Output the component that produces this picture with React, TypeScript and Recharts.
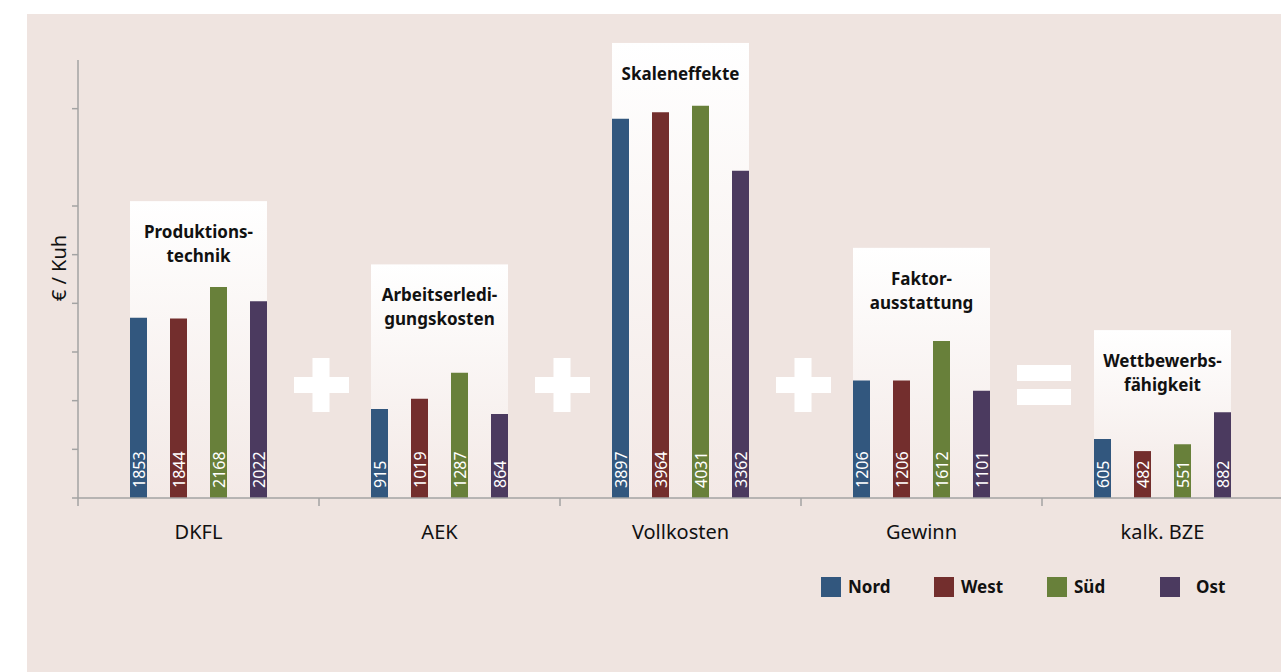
import React from 'react';
import { BarChart, Bar, XAxis, YAxis, ReferenceArea, LabelList, Legend } from 'recharts';

const categories = ['DKFL', 'AEK', 'Vollkosten', 'Gewinn', 'kalk. BZE'];
const nord = [1853, 915, 3897, 1206, 605];
const west = [1844, 1019, 3964, 1206, 482];
const sued = [2168, 1287, 4031, 1612, 551];
const ost = [2022, 864, 3362, 1101, 882];
const seriesNames = ['Nord', 'West', 'Süd', 'Ost'];

// caption box per group and the €/Kuh level its top sits at
const boxTitles = [
  ['Produktions-', 'technik'],
  ['Arbeitserledi-', 'gungskosten'],
  ['Skaleneffekte'],
  ['Faktor-', 'ausstattung'],
  ['Wettbewerbs-', 'fähigkeit'],
];
const boxTops = [3050, 2400, 4675, 2570, 1725];
const operators = ['', '+', '+', '+', '='];

const yTicks = [0, 500, 1000, 1500, 2000, 2500, 3000, 4000];

const data = categories.map((cat, i) => ({
  cat,
  Nord: nord[i],
  West: west[i],
  Süd: sued[i],
  Ost: ost[i],
}));

const BG = '#efe4e0';
const AXIS = '#a3a3a3';
const COLORS: Record<string, string> = { Nord: '#32577e', West: '#732e2d', Süd: '#68803a', Ost: '#4b3a5f' };
const FONT = "'Noto Sans', sans-serif";

const CHART_W = 1290;
const CHART_H = 672;
const MARGIN = { top: 60, right: 7, bottom: 134, left: 18 };
const Y_AXIS_W = 60;
const X_AXIS_H = 40;
const PLOT_LEFT = MARGIN.left + Y_AXIS_W;
const PLOT_W = CHART_W - PLOT_LEFT - MARGIN.right;
const PLOT_BOTTOM = CHART_H - MARGIN.bottom - X_AXIS_H;
const BAND = PLOT_W / categories.length;
const BAR_SIZE = 17;
const BAR_GAP = 23;
const GROUP_W = 4 * BAR_SIZE + 3 * BAR_GAP;

const Operator = ({ cx, cy, sign }: { cx: number; cy: number; sign: string }) => {
  if (sign === '+') {
    return (
      <g fill="#fff">
        <rect x={cx - 27} y={cy - 8} width={55} height={16} />
        <rect x={cx - 8.5} y={cy - 27} width={17} height={54} />
      </g>
    );
  }
  if (sign === '=') {
    return (
      <g fill="#fff">
        <rect x={cx - 27} y={cy - 20} width={54} height={16} />
        <rect x={cx - 27} y={cy + 4} width={54} height={16} />
      </g>
    );
  }
  return null;
};

const makeBoxShape = (i: number) => (props: any) => {
  const { x, y, width, height } = props;
  const inset = (width - GROUP_W) / 2;
  const cx = x + width / 2;
  return (
    <g>
      <rect x={x + inset} y={y} width={GROUP_W} height={height} fill="url(#boxFade)" />
      {boxTitles[i].map((line, j) => (
        <text
          key={j}
          x={cx}
          y={y + 37 + j * 24}
          textAnchor="middle"
          fontFamily={FONT}
          fontSize={17}
          fontWeight={700}
          fill="#111"
        >
          {line}
        </text>
      ))}
      <Operator cx={x + 2} cy={y + height - 113} sign={operators[i]} />
    </g>
  );
};

const renderValue = (props: any) => {
  const vb = props.viewBox || props;
  const { x, y, width, height } = vb;
  const cx = x + width / 2;
  const by = y + height - 10;
  return (
    <text
      x={cx}
      y={by}
      transform={`rotate(-90, ${cx}, ${by})`}
      textAnchor="start"
      dominantBaseline="central"
      fontFamily={FONT}
      fontSize={16}
      fill="#fff"
    >
      {props.value}
    </text>
  );
};

const CategoryTick = ({ x, payload }: any) => (
  <g>
    <line x1={x - BAND / 2} x2={x - BAND / 2} y1={PLOT_BOTTOM} y2={PLOT_BOTTOM + 8} stroke={AXIS} strokeWidth={1.5} />
    <text x={x} y={PLOT_BOTTOM + 41} textAnchor="middle" fontFamily={FONT} fontSize={20} fill="#111">
      {payload.value}
    </text>
  </g>
);

const LegendContent = ({ payload }: any) => {
  // keep the series order instead of the alphabetical one
  const entries = seriesNames.map((name) => {
    const hit = (payload || []).find((p: any) => p.value === name);
    return { value: name, color: hit ? hit.color : COLORS[name] };
  });
  return (
    <div style={{ display: 'flex', fontFamily: FONT }}>
      {entries.map((entry) => (
        <div key={entry.value} style={{ display: 'flex', alignItems: 'center', width: 113 }}>
          <span style={{ width: 20, height: 20, background: entry.color, display: 'inline-block' }} />
          <span
            style={{
              marginLeft: entry.value === 'Ost' ? 16 : 7,
              fontSize: 17,
              fontWeight: 700,
              color: '#111',
              lineHeight: '20px',
            }}
          >
            {entry.value}
          </span>
        </div>
      ))}
    </div>
  );
};

export default function App() {
  return (
    <div
      style={{
        position: 'absolute',
        left: 0,
        top: 0,
        width: 1281,
        height: 672,
        overflow: 'hidden',
        background: '#fff',
      }}
    >
      <div style={{ position: 'absolute', left: 27, top: 14, right: 0, bottom: 0, background: BG }} />
      <div style={{ position: 'absolute', left: 0, top: 0 }}>
        <BarChart
          width={CHART_W}
          height={CHART_H}
          data={data}
          margin={MARGIN}
          barSize={BAR_SIZE}
          barGap={BAR_GAP}
        >
          <defs>
            <linearGradient id="boxFade" x1="0" y1="0" x2="0" y2="1">
              <stop offset="0%" stopColor="#ffffff" />
              <stop offset="100%" stopColor="#f3e9e6" />
            </linearGradient>
          </defs>
          {categories.map((cat, i) => (
            <ReferenceArea
              key={cat}
              x1={cat}
              x2={cat}
              y1={0}
              y2={boxTops[i]}
              ifOverflow="visible"
              shape={makeBoxShape(i)}
            />
          ))}
          <XAxis
            dataKey="cat"
            height={X_AXIS_H}
            interval={0}
            tickLine={false}
            tick={<CategoryTick />}
            axisLine={{ stroke: AXIS, strokeWidth: 1.5 }}
          />
          <YAxis
            width={Y_AXIS_W}
            domain={[0, 4500]}
            ticks={yTicks}
            tickSize={6}
            tick={() => <g />}
            tickLine={{ stroke: AXIS, strokeWidth: 1.5 }}
            axisLine={{ stroke: AXIS, strokeWidth: 1.5 }}
            label={{
              content: () => (
                <text
                  x={66}
                  y={268}
                  transform="rotate(-90, 66, 268)"
                  textAnchor="middle"
                  fontFamily={FONT}
                  fontSize={20}
                  fill="#111"
                >
                  € / Kuh
                </text>
              ),
            }}
          />
          <Legend
            layout="horizontal"
            verticalAlign="middle"
            align="center"
            content={<LegendContent />}
            wrapperStyle={{ left: 821, top: 577, width: 460, bottom: 'auto', right: 'auto' }}
          />
          {seriesNames.map((key) => (
            <Bar key={key} dataKey={key} name={key} fill={COLORS[key]} isAnimationActive={false}>
              <LabelList dataKey={key} content={renderValue} />
            </Bar>
          ))}
        </BarChart>
      </div>
    </div>
  );
}
